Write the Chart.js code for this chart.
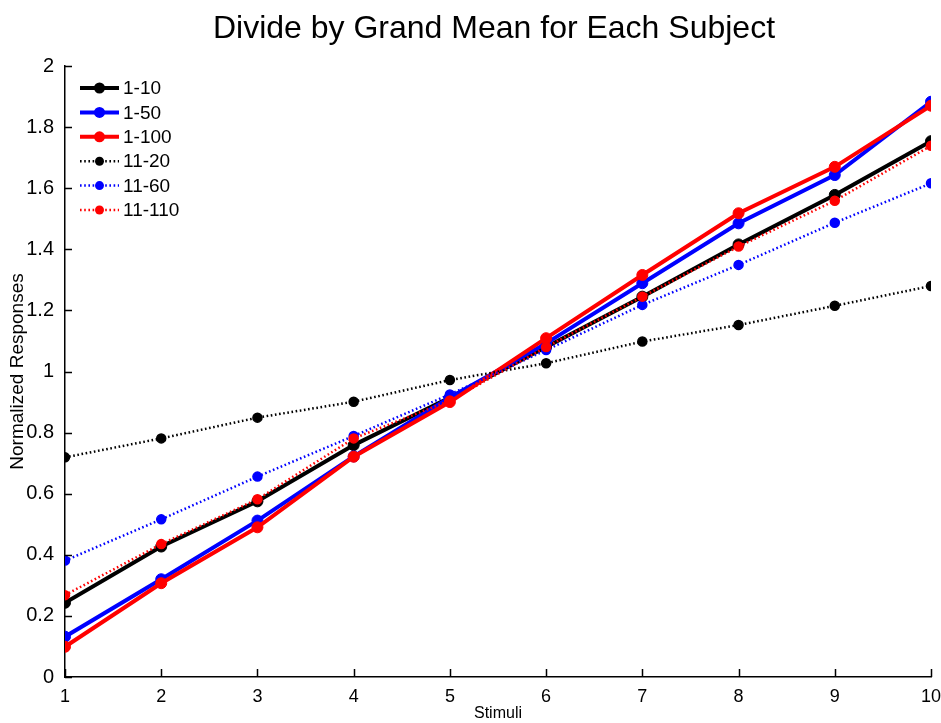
<!DOCTYPE html>
<html>
<head>
<meta charset="utf-8">
<script src="https://cdn.jsdelivr.net/npm/chart.js@4.4.1/dist/chart.umd.min.js"></script>
<style>
  html, body { margin: 0; padding: 0; background: #fff; }
  #wrap { width: 941px; height: 723px; position: relative; }
</style>
</head>
<body>
<div id="wrap"><canvas id="c" width="941" height="723"></canvas></div>
<script>
// ---- data ----
const stimuli = [1, 2, 3, 4, 5, 6, 7, 8, 9, 10];
const s1_10   = [0.243, 0.427, 0.575, 0.759, 0.915, 1.080, 1.245, 1.416, 1.578, 1.754];
const s1_50   = [0.132, 0.320, 0.512, 0.722, 0.915, 1.092, 1.289, 1.485, 1.643, 1.883];
const s1_100  = [0.099, 0.307, 0.490, 0.721, 0.900, 1.109, 1.316, 1.518, 1.670, 1.870];
const s11_20  = [0.719, 0.781, 0.849, 0.901, 0.972, 1.027, 1.098, 1.152, 1.215, 1.280];
const s11_60  = [0.381, 0.516, 0.656, 0.789, 0.925, 1.070, 1.218, 1.349, 1.487, 1.616];
const s11_110 = [0.268, 0.435, 0.582, 0.781, 0.905, 1.080, 1.245, 1.409, 1.559, 1.739];
const seriesNames = ['1-10', '1-50', '1-100', '11-20', '11-60', '11-110'];
const yTicks = [0, 0.2, 0.4, 0.6, 0.8, 1, 1.2, 1.4, 1.6, 1.8, 2];
const yTickLabels = ['0', '0.2', '0.4', '0.6', '0.8', '1', '1.2', '1.4', '1.6', '1.8', '2'];
const xTickLabels = ['1', '2', '3', '4', '5', '6', '7', '8', '9', '10'];
const titleText = 'Divide by Grand Mean for Each Subject';
const xTitle = 'Stimuli';
const yTitle = 'Normalized Responses';

const seriesValues = [s1_10, s1_50, s1_100, s11_20, s11_60, s11_110];
const colors = ['#000000', '#0000ff', '#ff0000', '#000000', '#0000ff', '#ff0000'];
const dotted = [false, false, false, true, true, true];

const datasets = seriesValues.map((vals, i) => ({
  label: seriesNames[i],
  data: stimuli.map((x, k) => ({ x: x, y: vals[k] })),
  borderColor: colors[i],
  backgroundColor: colors[i],
  pointBackgroundColor: colors[i],
  pointBorderColor: colors[i],
  borderWidth: dotted[i] ? 2.5 : 4,
  borderDash: dotted[i] ? [1.6, 2.6] : [],
  pointRadius: dotted[i] ? 4.5 : 5.5,
  pointBorderWidth: dotted[i] ? 1.5 : 1,
  tension: 0,
  order: 10 - i
}));

const FONT = "'Liberation Sans', Arial, sans-serif";

const decorPlugin = {
  id: 'decor',
  afterDatasetsDraw(chart) {
    const ctx = chart.ctx;
    const area = chart.chartArea;
    const xs = chart.scales.x, ys = chart.scales.y;
    ctx.save();
    // inward ticks
    ctx.strokeStyle = '#000';
    ctx.lineWidth = 1.5;
    ctx.beginPath();
    yTicks.forEach(v => {
      const py = Math.round(ys.getPixelForValue(v)) + 0.5;
      ctx.moveTo(area.left, py); ctx.lineTo(area.left + 7, py);
    });
    stimuli.forEach(v => {
      const px = Math.round(xs.getPixelForValue(v)) + 0.5;
      ctx.moveTo(px, area.bottom); ctx.lineTo(px, area.bottom - 8);
    });
    ctx.stroke();
    // legend
    const lx0 = 80, lx1 = 119, tx = 123, y0 = 88, dy = 24.4;
    ctx.font = '19px ' + FONT;
    ctx.textBaseline = 'middle';
    ctx.textAlign = 'left';
    datasets.forEach((d, i) => {
      const y = y0 + i * dy;
      ctx.strokeStyle = d.borderColor;
      ctx.lineWidth = d.borderWidth;
      ctx.setLineDash(d.borderDash);
      ctx.beginPath(); ctx.moveTo(lx0, y); ctx.lineTo(lx1, y); ctx.stroke();
      ctx.setLineDash([]);
      ctx.fillStyle = d.pointBackgroundColor;
      ctx.beginPath(); ctx.arc((lx0 + lx1) / 2, y, d.pointRadius, 0, Math.PI * 2); ctx.fill();
      ctx.fillStyle = '#000';
      ctx.fillText(d.label, tx, y + 1);
    });
    // title centered over the plot area
    ctx.font = '32px ' + FONT;
    ctx.textAlign = 'center';
    ctx.textBaseline = 'middle';
    ctx.fillStyle = '#000';
    ctx.fillText(titleText, (area.left + area.right) / 2 - 4, 29);
    ctx.restore();
  }
};

new Chart(document.getElementById('c'), {
  type: 'line',
  data: { datasets: datasets },
  plugins: [decorPlugin],
  options: {
    responsive: false,
    animation: false,
    devicePixelRatio: 1,
    layout: { padding: { top: 66, right: 10, left: 0, bottom: 0 } },
    plugins: { legend: { display: false }, tooltip: { enabled: false }, title: { display: false } },
    scales: {
      x: {
        type: 'linear', min: 1, max: 10,
        afterBuildTicks(scale) { scale.ticks = stimuli.map(v => ({ value: v })); },
        afterFit(scale) { scale.height = 46; scale.paddingLeft = 0; scale.paddingRight = 0; },
        grid: { display: false },
        border: { display: true, color: '#000', width: 1.5 },
        ticks: {
          color: '#000', font: { family: FONT, size: 18 }, padding: 1, maxRotation: 0, autoSkip: false,
          callback: (v) => xTickLabels[stimuli.indexOf(v)]
        },
        title: { display: true, text: xTitle, color: '#000', font: { family: FONT, size: 16 }, padding: { top: 0, bottom: 0 } }
      },
      y: {
        min: 0, max: 2,
        afterBuildTicks(scale) { scale.ticks = yTicks.map(v => ({ value: v })); },
        afterFit(scale) { scale.width = 65; scale.paddingTop = 0; scale.paddingBottom = 0; },
        grid: { display: false },
        border: { display: true, color: '#000', width: 1.5 },
        ticks: {
          color: '#000', font: { family: FONT, size: 20 }, padding: 3, autoSkip: false,
          callback: (v) => yTickLabels[yTicks.findIndex(t => Math.abs(t - v) < 1e-9)]
        },
        title: { display: true, text: yTitle, color: '#000', font: { family: FONT, size: 19 }, padding: { top: 6, bottom: 0 } }
      }
    }
  }
});
</script>
</body>
</html>
